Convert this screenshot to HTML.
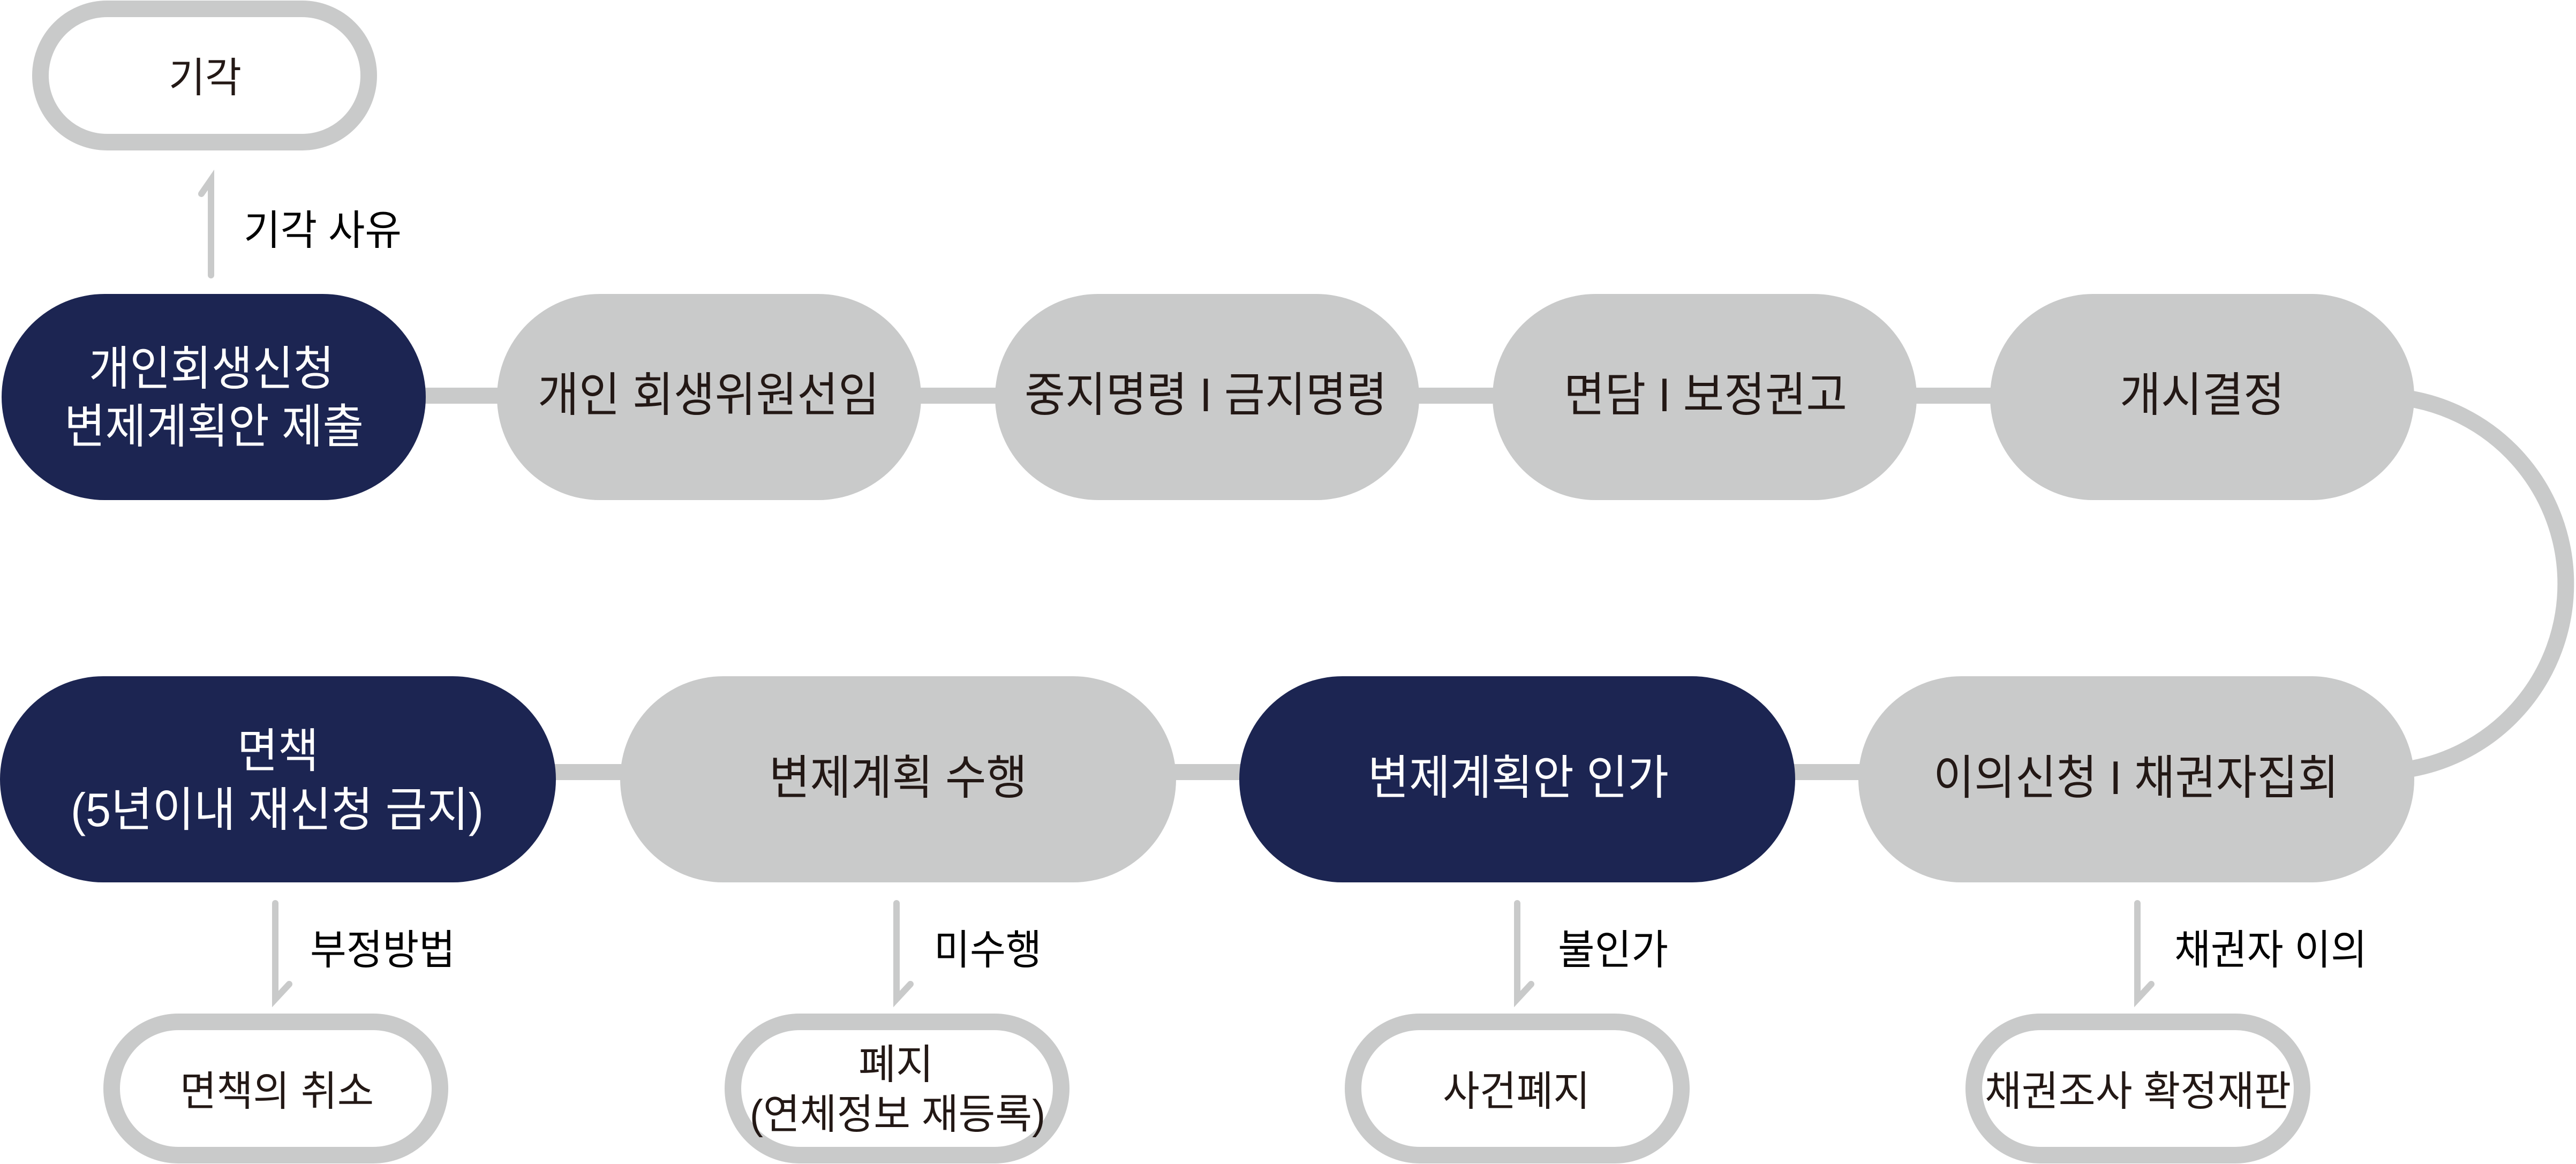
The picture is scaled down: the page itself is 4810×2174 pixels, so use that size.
<!DOCTYPE html>
<html>
<head>
<meta charset="utf-8">
<style>
  html, body { margin: 0; padding: 0; background: #ffffff; }
  svg { display: block; }
  .t { font-family: "Liberation Sans", "Noto Sans CJK KR", sans-serif; }
</style>
</head>
<body>
<svg width="4810" height="2174" viewBox="0 0 4810 2174" xmlns="http://www.w3.org/2000/svg">
  <rect x="0" y="0" width="4810" height="2174" fill="#ffffff"/>

  <!-- connectors -->
  <rect x="400" y="724" width="4000" height="30" fill="#c9caca"/>
  <rect x="500" y="1427" width="3600" height="30" fill="#c9caca"/>
  <path d="M 4480 741.8 A 351 351 0 0 1 4480 1439.2" fill="none" stroke="#c9caca" stroke-width="31"/>

  <!-- top row nodes -->
  <rect x="3" y="549" width="792" height="385" rx="192.5" ry="192.5" fill="#1c2552"/>
  <rect x="928" y="549" width="792" height="385" rx="192.5" ry="192.5" fill="#c9caca"/>
  <rect x="1858" y="549" width="792" height="385" rx="192.5" ry="192.5" fill="#c9caca"/>
  <rect x="2787" y="549" width="792" height="385" rx="192.5" ry="192.5" fill="#c9caca"/>
  <rect x="3716" y="549" width="792" height="385" rx="192.5" ry="192.5" fill="#c9caca"/>

  <!-- bottom row nodes -->
  <rect x="0" y="1263" width="1038" height="385" rx="192.5" ry="192.5" fill="#1c2552"/>
  <rect x="1158" y="1263" width="1038" height="385" rx="192.5" ry="192.5" fill="#c9caca"/>
  <rect x="2314" y="1263" width="1038" height="385" rx="192.5" ry="192.5" fill="#1c2552"/>
  <rect x="3470" y="1263" width="1038" height="385" rx="192.5" ry="192.5" fill="#c9caca"/>

  <!-- outlined nodes -->
  <rect x="75.5" y="16.5" width="613" height="249" rx="124.5" ry="124.5" fill="#ffffff" stroke="#c9caca" stroke-width="31"/>
  <rect x="208.5" y="1908.5" width="613" height="249" rx="124.5" ry="124.5" fill="#ffffff" stroke="#c9caca" stroke-width="31"/>
  <rect x="1368.5" y="1908.5" width="613" height="249" rx="124.5" ry="124.5" fill="#ffffff" stroke="#c9caca" stroke-width="31"/>
  <rect x="2526.5" y="1908.5" width="613" height="249" rx="124.5" ry="124.5" fill="#ffffff" stroke="#c9caca" stroke-width="31"/>
  <rect x="3685.5" y="1908.5" width="613" height="249" rx="124.5" ry="124.5" fill="#ffffff" stroke="#c9caca" stroke-width="31"/>

  <!-- arrows -->
  <g fill="none" stroke="#c9caca" stroke-width="12" stroke-linecap="round" stroke-linejoin="miter" stroke-miterlimit="6">
    <path d="M 394 514 L 394 336 L 376 362"/>
    <path d="M 514 1687 L 514 1866 L 540 1838"/>
    <path d="M 1674 1687 L 1674 1866 L 1700 1838"/>
    <path d="M 2833 1687 L 2833 1866 L 2859 1838"/>
    <path d="M 3991 1687 L 3991 1866 L 4017 1838"/>
  </g>

  <!-- main node text -->
  <g class="t" font-size="88">
    <text x="166" y="719" fill="#ffffff" textLength="458" lengthAdjust="spacingAndGlyphs">개인회생신청</text>
    <text x="120" y="827" fill="#ffffff" textLength="559" lengthAdjust="spacingAndGlyphs">변제계획안 제출</text>
    <text x="1004" y="768" fill="#231815" textLength="638" lengthAdjust="spacingAndGlyphs">개인 회생위원선임</text>
    <text x="1913" y="768" fill="#231815" textLength="677" lengthAdjust="spacingAndGlyphs">중지명령 I 금지명령</text>
    <text x="2920" y="768" fill="#231815" textLength="529" lengthAdjust="spacingAndGlyphs">면담 I 보정권고</text>
    <text x="3958" y="768" fill="#231815" textLength="308" lengthAdjust="spacingAndGlyphs">개시결정</text>
    <text x="443" y="1433" fill="#ffffff" textLength="152" lengthAdjust="spacingAndGlyphs">면책</text>
    <text x="132" y="1543" fill="#ffffff" textLength="771" lengthAdjust="spacingAndGlyphs">(5년이내 재신청 금지)</text>
    <text x="1436" y="1483" fill="#231815" textLength="482" lengthAdjust="spacingAndGlyphs">변제계획 수행</text>
    <text x="2554" y="1483" fill="#ffffff" textLength="562" lengthAdjust="spacingAndGlyphs">변제계획안 인가</text>
    <text x="3610" y="1483" fill="#231815" textLength="757" lengthAdjust="spacingAndGlyphs">이의신청 I 채권자집회</text>
  </g>

  <!-- arrow labels -->
  <g class="t" font-size="77" fill="#000000">
    <text x="455" y="457" textLength="295" lengthAdjust="spacingAndGlyphs">기각 사유</text>
    <text x="579" y="1801" textLength="271" lengthAdjust="spacingAndGlyphs">부정방법</text>
    <text x="1744" y="1801" textLength="201" lengthAdjust="spacingAndGlyphs">미수행</text>
    <text x="2909" y="1801" textLength="206" lengthAdjust="spacingAndGlyphs">불인가</text>
    <text x="4060" y="1801" textLength="360" lengthAdjust="spacingAndGlyphs">채권자 이의</text>
  </g>

  <!-- outlined node text -->
  <g class="t" font-size="77" fill="#231815">
    <text x="315" y="172" textLength="136" lengthAdjust="spacingAndGlyphs">기각</text>
    <text x="336" y="2065" textLength="362" lengthAdjust="spacingAndGlyphs">면책의 취소</text>
    <text x="1603" y="2015" textLength="140" lengthAdjust="spacingAndGlyphs">폐지</text>
    <text x="1400" y="2108" textLength="552" lengthAdjust="spacingAndGlyphs">(연체정보 재등록)</text>
    <text x="2694" y="2065" textLength="275" lengthAdjust="spacingAndGlyphs">사건폐지</text>
    <text x="3706" y="2065" textLength="572" lengthAdjust="spacingAndGlyphs">채권조사 확정재판</text>
  </g>
</svg>
</body>
</html>
